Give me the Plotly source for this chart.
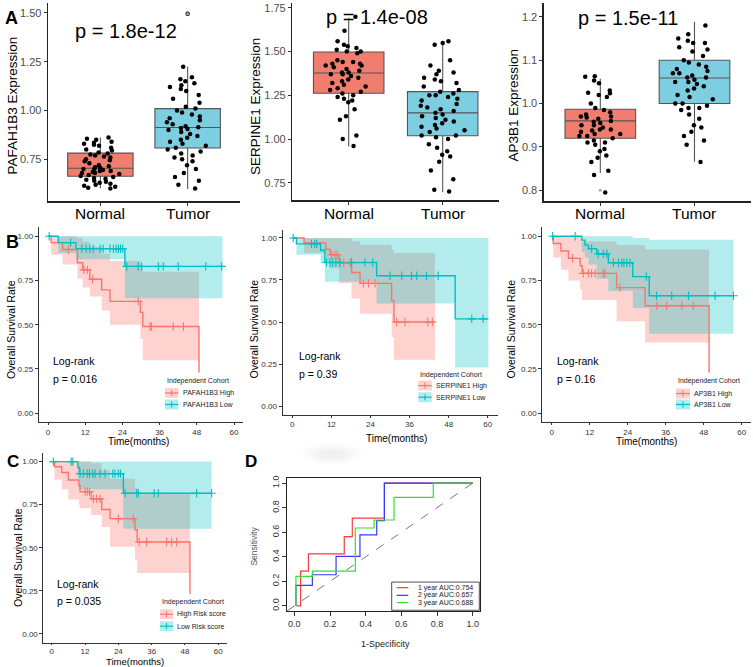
import plotly.graph_objects as go

# ---------------- DATA ----------------
groups = ["Normal", "Tumor"]

# Panel A1: PAFAH1B3
a1_normal = [0.862, 0.855, 0.85, 0.84, 0.835, 0.83, 0.825, 0.82, 0.81, 0.80, 0.795, 0.785,
             0.78, 0.775, 0.77, 0.765, 0.76, 0.75, 0.745, 0.74, 0.73, 0.72, 0.715, 0.71,
             0.705, 0.70, 0.70, 0.695, 0.69, 0.69, 0.685, 0.68, 0.68, 0.675, 0.67, 0.665,
             0.66, 0.655, 0.65, 0.645, 0.64, 0.635, 0.63, 0.625, 0.62, 0.615, 0.61, 0.605, 0.60]
a1_tumor = [1.496, 1.224, 1.17, 1.16, 1.15, 1.14, 1.13, 1.12, 1.11, 1.10, 1.08, 1.06, 1.04,
            1.02, 1.01, 1.00, 0.99, 0.98, 0.97, 0.96, 0.95, 0.94, 0.93, 0.92, 0.915, 0.91,
            0.905, 0.90, 0.89, 0.88, 0.87, 0.86, 0.85, 0.84, 0.83, 0.82, 0.81, 0.80, 0.79,
            0.78, 0.77, 0.76, 0.75, 0.74, 0.72, 0.70, 0.68, 0.66, 0.64, 0.62, 0.60]
a1_q1 = [0.663, 0.808]; a1_med = [0.704, 0.913]; a1_q3 = [0.782, 1.010]
a1_lo = [0.602, 0.598]; a1_hi = [0.862, 1.224]
a1_out_x = [2]; a1_out_y = [1.496]

# Panel A2: SERPINE1
a2_normal = [1.70, 1.62, 1.56, 1.54, 1.53, 1.52, 1.51, 1.50, 1.50, 1.49, 1.45, 1.44, 1.44,
             1.43, 1.43, 1.42, 1.42, 1.41, 1.40, 1.39, 1.38, 1.38, 1.37, 1.37, 1.36, 1.35,
             1.34, 1.33, 1.32, 1.31, 1.30, 1.29, 1.28, 1.27, 1.26, 1.25, 1.24, 1.23, 1.22,
             1.21, 1.17, 1.13, 1.11, 1.02, 1.00, 0.96]
a2_tumor = [1.56, 1.55, 1.54, 1.45, 1.42, 1.39, 1.38, 1.37, 1.35, 1.34, 1.33, 1.32, 1.30,
            1.28, 1.27, 1.26, 1.25, 1.25, 1.24, 1.23, 1.22, 1.20, 1.19, 1.18, 1.17, 1.16,
            1.15, 1.14, 1.13, 1.12, 1.11, 1.10, 1.09, 1.08, 1.07, 1.06, 1.05, 1.04, 1.02,
            1.02, 1.01, 1.00, 0.97, 0.95, 0.93, 0.91, 0.90, 0.87, 0.82, 0.77, 0.71, 0.70]
a2_q1 = [1.262, 1.019]; a2_med = [1.378, 1.150]; a2_q3 = [1.498, 1.271]
a2_lo = [0.958, 0.696]; a2_hi = [1.693, 1.554]
a2_out_x = []; a2_out_y = []

# Panel A3: AP3B1
a3_normal = [1.063, 1.062, 1.053, 1.047, 1.03, 1.025, 1.024, 1.02, 1.015, 1.00, 0.99, 0.985,
             0.98, 0.975, 0.97, 0.97, 0.968, 0.965, 0.96, 0.958, 0.955, 0.95, 0.95, 0.945,
             0.94, 0.94, 0.938, 0.935, 0.93, 0.93, 0.925, 0.925, 0.92, 0.915, 0.91, 0.91,
             0.905, 0.895, 0.89, 0.88, 0.875, 0.865, 0.845, 0.835, 0.795]
a3_tumor = [1.18, 1.16, 1.15, 1.145, 1.14, 1.14, 1.13, 1.125, 1.12, 1.11, 1.10, 1.095, 1.09,
            1.085, 1.08, 1.075, 1.07, 1.07, 1.065, 1.06, 1.06, 1.055, 1.05, 1.05, 1.045,
            1.04, 1.035, 1.03, 1.02, 1.015, 1.01, 1.0, 1.0, 0.995, 0.99, 0.99, 0.985, 0.975,
            0.965, 0.95, 0.945, 0.935, 0.925, 0.915, 0.905, 0.865]
a3_q1 = [0.920, 1.000]; a3_med = [0.960, 1.059]; a3_q3 = [0.987, 1.100]
a3_lo = [0.840, 0.866]; a3_hi = [1.057, 1.189]
a3_out_x = [1]; a3_out_y = [0.80]

a_ylabels = ["PAFAH1B3 Expression", "SERPINE1 Expression", "AP3B1 Expression"]
a_pvalues = ["p = 1.8e-12", "p = 1.4e-08", "p = 1.5e-11"]

# Survival panels (time in months)
b1_hi_t = [0, 1.0, 4.7, 9.5, 11.2, 13.5, 17.3, 20.0, 29.8, 30.6, 48.7]
b1_hi_s = [1.0, 0.964, 0.925, 0.85, 0.81, 0.757, 0.697, 0.632, 0.57, 0.49, 0.23]
b1_hi_end = 48.7
b1_hi_up = [1.0, 1.0, 1.0, 0.99, 0.97, 0.94, 0.90, 0.86, 0.83, 0.80]
b1_hi_lo = [1.0, 0.895, 0.84, 0.76, 0.71, 0.66, 0.58, 0.50, 0.42, 0.30]
b1_hi_cens = [6.6, 11.6, 12.7, 14.4, 29.1, 32.9, 33.4, 40.4, 43.7]
b1_lo_t = [0, 3.3, 9.0, 24.8]
b1_lo_s = [1.0, 0.964, 0.93, 0.83]
b1_lo_end = 56.3
b1_lo_up = [1.0, 1.0, 1.0, 1.0]
b1_lo_lo = [1.0, 0.905, 0.87, 0.65]
b1_lo_cens = [0.4, 7.3, 10.9, 12.3, 13.5, 14.6, 16.8, 17.8, 20.0, 21.1, 22.0, 22.7, 23.4,
              24.1, 25.4, 29.1, 30.2, 35.6, 37.2, 42.0, 50.9, 56.0]

b2_hi_t = [0, 3.6, 10.3, 11.6, 14.4, 18.2, 20.8, 30.5, 31.2]
b2_hi_s = [1.0, 0.97, 0.933, 0.90, 0.852, 0.795, 0.73, 0.627, 0.50]
b2_hi_end = 43.8
b2_hi_up = [1.0, 1.0, 1.0, 1.0, 1.0, 0.98, 0.96, 0.93, 0.91]
b2_hi_lo = [1.0, 0.91, 0.86, 0.82, 0.73, 0.64, 0.55, 0.41, 0.276]
b2_hi_cens = [12.1, 13.1, 13.8, 14.6, 15.8, 17.7, 21.8, 23.4, 25.4, 32.0, 34.6, 41.6, 43.0]
b2_lo_t = [0, 1.3, 8.7, 10.0, 25.9, 50.0]
b2_lo_s = [1.0, 0.965, 0.927, 0.854, 0.775, 0.519]
b2_lo_end = 60.2
b2_lo_up = [1.0, 1.0, 1.0, 1.0, 1.0, 1.0]
b2_lo_lo = [1.0, 0.90, 0.85, 0.74, 0.61, 0.23]
b2_lo_cens = [0.3, 5.9, 6.9, 7.5, 10.5, 11.6, 12.4, 13.4, 14.6, 18.2, 22.3, 24.7, 30.0, 33.6,
              36.6, 38.2, 41.2, 44.8, 55.1, 58.6]

b3_hi_t = [0, 0.5, 2.9, 5.3, 9.0, 9.6, 20.5, 29.5, 49.7]
b3_hi_s = [1.0, 0.959, 0.917, 0.875, 0.833, 0.79, 0.71, 0.607, 0.23]
b3_hi_end = 49.7
b3_hi_up = [1.0, 1.0, 1.0, 1.0, 0.99, 0.97, 0.95, 0.925]
b3_hi_lo = [1.0, 0.88, 0.81, 0.75, 0.70, 0.64, 0.52, 0.40]
b3_hi_cens = [6.6, 10.0, 11.6, 12.6, 13.7, 16.3, 16.8, 21.5, 33.2, 36.3, 41.1, 44.7]
b3_lo_t = [0, 9.5, 10.5, 11.6, 14.2, 17.9, 25.6, 30.8]
b3_lo_s = [1.0, 0.978, 0.95, 0.93, 0.90, 0.85, 0.772, 0.664]
b3_lo_end = 57.4
b3_lo_up = [1.0, 1.0, 1.0, 1.0, 1.0, 1.0, 0.99, 0.98]
b3_lo_lo = [1.0, 0.91, 0.88, 0.84, 0.76, 0.69, 0.594, 0.449]
b3_lo_cens = [0.3, 7.4, 12.6, 14.7, 16.3, 17.4, 19.5, 21.1, 22.1, 22.8, 23.7, 24.7, 29.9,
              33.1, 37.9, 43.2, 51.6, 57.4]

c_hi_t = [0, 1.0, 3.6, 6.0, 9.8, 10.2, 14.2, 18.0, 21.0, 30.0, 30.8, 49.8]
c_hi_s = [1.0, 0.97, 0.937, 0.893, 0.86, 0.826, 0.784, 0.722, 0.669, 0.605, 0.534, 0.232]
c_hi_end = 49.8
c_hi_up = [1.0, 1.0, 1.0, 1.0, 1.0, 1.0, 0.99, 0.95, 0.90, 0.85, 0.81]
c_hi_lo = [1.0, 0.895, 0.84, 0.78, 0.75, 0.73, 0.69, 0.62, 0.506, 0.43, 0.354]
c_hi_cens = [12.0, 12.8, 13.6, 15.0, 16.2, 17.4, 24.0, 29.4, 31.5, 34.2, 41.4, 43.2, 45.0]
c_lo_t = [0, 9.4, 10.0, 25.8]
c_lo_s = [1.0, 0.965, 0.93, 0.816]
c_lo_end = 57.6
c_lo_up = [1.0, 1.0, 1.0, 1.0]
c_lo_lo = [1.0, 0.90, 0.84, 0.61]
c_lo_cens = [0.6, 7.0, 7.6, 10.2, 11.4, 12.8, 13.6, 14.8, 15.6, 17.4, 19.2, 22.0, 22.8, 24.0,
             24.8, 26.4, 30.6, 31.2, 36.9, 38.4, 52.2, 57.6]

km_pvalues = ["p = 0.016", "p = 0.39", "p = 0.16", "p = 0.035"]
km_labels = [["PAFAH1B3 High", "PAFAH1B3 Low"], ["SERPINE1 High", "SERPINE1 Low"],
             ["AP3B1 High", "AP3B1 Low"], ["High Risk score", "Low Risk score"]]
time_ticks = [0, 12, 24, 36, 48, 60]
surv_ticks = [0, 0.25, 0.5, 0.75, 1.0]

# ROC panel
roc1_fpr = [0.013, 0.035, 0.035, 0.079, 0.079, 0.28, 0.28, 0.325, 0.325, 0.505, 0.505, 1.0]
roc1_tpr = [0.0, 0.0, 0.284, 0.284, 0.424, 0.424, 0.565, 0.565, 0.716, 0.716, 1.0, 1.0]
roc2_fpr = [0.009, 0.009, 0.101, 0.101, 0.234, 0.234, 0.368, 0.368, 0.462, 0.462, 0.505, 0.505, 1.0]
roc2_tpr = [0.0, 0.168, 0.168, 0.254, 0.254, 0.403, 0.403, 0.578, 0.578, 0.695, 0.695, 1.0, 1.0]
roc3_fpr = [0.009, 0.009, 0.101, 0.101, 0.342, 0.342, 0.447, 0.447, 0.559, 0.559, 0.779, 0.779, 1.0]
roc3_tpr = [0.0, 0.24, 0.24, 0.284, 0.284, 0.635, 0.635, 0.70, 0.70, 0.884, 0.884, 1.0, 1.0]
roc_labels = ["1 year AUC:0.754", "2 year AUC:0.657", "3 year AUC:0.688"]
roc_ticks = [0, 0.2, 0.4, 0.6, 0.8, 1.0]

# ---------------- STYLE / LAYOUT ----------------
W, H = 753, 667
FONT = "Liberation Sans, Arial, sans-serif"
RED = "#F8766D"; TEAL = "#00BFC4"
RED_BAND = "rgba(248,118,109,0.33)"; TEAL_BAND = "rgba(0,191,196,0.30)"
BOX_COLORS = ["#F07D6D", "#7ECEE2"]
ROC_COLORS = ["#FF3B3B", "#3838FF", "#33E033"]


def X(p):
    return p / W


def Y(p):
    return 1 - p / H


def xdom(a, b):
    return [a / W, b / W]


def ydom(top, bot):
    return [1 - bot / H, 1 - top / H]


def sfx(n):
    return "" if n == 1 else str(n)


fig = go.Figure()
layout = dict(width=W, height=H, margin=dict(l=0, r=0, t=0, b=0), autosize=False,
              paper_bgcolor="white", plot_bgcolor="white", showlegend=False,
              font=dict(family=FONT, color="#000"), boxmode="overlay")
annotations = []
shapes = []


def ann(text, x, y, size, xanchor="center", yanchor="middle", angle=0, bold=False, color="#000",
        xref="paper"):
    annotations.append(dict(text=("<b>%s</b>" % text) if bold else text,
                            x=X(x) if xref == "paper" else x, y=Y(y),
                            xref=xref, yref="paper", showarrow=False, xanchor=xanchor,
                            yanchor=yanchor, textangle=angle,
                            font=dict(size=size, color=color, family=FONT)))


# ---------- Panel A ----------
a_sets = [
    (1, a1_normal, a1_tumor, a1_q1, a1_med, a1_q3, a1_lo, a1_hi, a1_out_x, a1_out_y,
     (48, 240), (0, 199), [0.536, 1.551], [0.75, 1.0, 1.25, 1.5], ".2f"),
    (2, a2_normal, a2_tumor, a2_q1, a2_med, a2_q3, a2_lo, a2_hi, a2_out_x, a2_out_y,
     (292.3, 499.1), (0, 198), [0.651, 1.778], [0.75, 1.0, 1.25, 1.5, 1.75], ".2f"),
    (3, a3_normal, a3_tumor, a3_q1, a3_med, a3_q3, a3_lo, a3_hi, a3_out_x, a3_out_y,
     (543.8, 751), (0, 199), [0.775, 1.232], [0.8, 0.9, 1.0, 1.1, 1.2], ".1f"),
]
for (n, nv, tv, q1, med, q3, lo, hi, ox, oy, xd, yd, yr, ytv, yfmt) in a_sets:
    xr, yr_ = "x" + sfx(n), "y" + sfx(n)
    for i, vals in enumerate([nv, tv]):
        pos = i + 1
        fig.add_trace(go.Box(x=[pos], q1=[q1[i]], median=[med[i]], q3=[q3[i]],
                             lowerfence=[lo[i]], upperfence=[hi[i]], width=0.75, whiskerwidth=0,
                             fillcolor=BOX_COLORS[i], line=dict(color="#555555", width=1.1),
                             boxpoints=False, xaxis=xr, yaxis=yr_, hoverinfo="skip"))
    if ox:
        fig.add_trace(go.Scatter(x=ox, y=oy, mode="markers", marker=dict(color="#aaa", size=3),
                                 xaxis=xr, yaxis=yr_, hoverinfo="skip"))
    for i, vals in enumerate([nv, tv]):
        pos = i + 1
        fig.add_trace(go.Box(x=[pos] * len(vals), y=vals, boxpoints="all", jitter=0.7, pointpos=0,
                             width=0.75, whiskerwidth=0, fillcolor="rgba(0,0,0,0)",
                             line=dict(color="rgba(0,0,0,0)", width=0),
                             marker=dict(color="black", size=4.5),
                             xaxis=xr, yaxis=yr_, hoverinfo="skip"))
    layout["xaxis" + sfx(n)] = dict(domain=xdom(*xd), range=[0.4, 2.6], anchor=yr_,
                                    tickvals=[1, 2], showticklabels=False, ticks="outside",
                                    ticklen=3, tickcolor="#333", showline=True, linecolor="#222",
                                    linewidth=1.4, showgrid=False, zeroline=False)
    layout["yaxis" + sfx(n)] = dict(domain=ydom(*yd), range=yr, anchor=xr, tickvals=ytv,
                                    tickformat=yfmt, ticks="outside", ticklen=3, tickcolor="#333",
                                    showline=True, linecolor="#222", linewidth=1.4, showgrid=False,
                                    zeroline=False, tickfont=dict(size=11, color="#4D4D4D", family=FONT))
    for i, g in enumerate(groups):
        ann(g, i + 1, 211, 15.5, xref=xr)

ann("A", 11, 15, 18, bold=True)
ann(a_ylabels[0], 13, 103, 13.5, angle=-90)
ann(a_ylabels[1], 255, 103.5, 13.5, angle=-90)
ann(a_ylabels[2], 514, 103, 13.5, angle=-90)
ann(a_pvalues[0], 126, 28, 20)
ann(a_pvalues[1], 377, 14, 20)
ann(a_pvalues[2], 628, 15, 20)


# ---------- KM panels ----------
def step_at(times, surv, t):
    v = surv[0]
    for ti, si in zip(times, surv):
        if ti <= t:
            v = si
    return v


km_sets = [
    (4, [(b1_hi_t, b1_hi_s, b1_hi_end, b1_hi_up, b1_hi_lo, b1_hi_cens),
         (b1_lo_t, b1_lo_s, b1_lo_end, b1_lo_up, b1_lo_lo, b1_lo_cens)],
     (38.7, 243.3), (225.4, 421.0), 2),
    (5, [(b2_hi_t, b2_hi_s, b2_hi_end, b2_hi_up, b2_hi_lo, b2_hi_cens),
         (b2_lo_t, b2_lo_s, b2_lo_end, b2_lo_up, b2_lo_lo, b2_lo_cens)],
     (282.5, 497.5), (227.55, 413.45), 2),
    (6, [(b3_hi_t, b3_hi_s, b3_hi_end, b3_hi_up, b3_hi_lo, b3_hi_cens),
         (b3_lo_t, b3_lo_s, b3_lo_end, b3_lo_up, b3_lo_lo, b3_lo_cens)],
     (542.2, 751.2), (225.4, 421.0), 2),
    (7, [(c_hi_t, c_hi_s, c_hi_end, c_hi_up, c_hi_lo, c_hi_cens),
         (c_lo_t, c_lo_s, c_lo_end, c_lo_up, c_lo_lo, c_lo_cens)],
     (43.4, 226.6), (452, 642.5), 1),
]
line_cols = [RED, TEAL]
band_cols = [RED_BAND, TEAL_BAND]
for (n, curves, xd, yd, tl) in km_sets:
    xr, yr_ = "x" + sfx(n), "y" + sfx(n)
    for k, (t, s, end, up, lo, cens) in enumerate(curves):
        bx = list(t[:len(up)]) + [end]
        fig.add_trace(go.Scatter(x=bx, y=list(lo) + [lo[-1]], mode="lines",
                                 line=dict(width=0, shape="hv"), xaxis=xr, yaxis=yr_,
                                 hoverinfo="skip"))
        fig.add_trace(go.Scatter(x=bx, y=list(up) + [up[-1]], mode="lines",
                                 line=dict(width=0, shape="hv"), fill="tonexty",
                                 fillcolor=band_cols[k], xaxis=xr, yaxis=yr_, hoverinfo="skip"))
    for k, (t, s, end, up, lo, cens) in enumerate(curves):
        fig.add_trace(go.Scatter(x=list(t) + [end], y=list(s) + [s[-1]], mode="lines",
                                 line=dict(color=line_cols[k], width=1.4, shape="hv"),
                                 xaxis=xr, yaxis=yr_, hoverinfo="skip"))
    for k, (t, s, end, up, lo, cens) in enumerate(curves):
        fig.add_trace(go.Scatter(x=cens, y=[step_at(t, s, c) for c in cens], mode="markers",
                                 marker=dict(symbol="cross-thin", size=6,
                                             line=dict(color=line_cols[k], width=1.1)),
                                 xaxis=xr, yaxis=yr_, hoverinfo="skip"))
    layout["xaxis" + sfx(n)] = dict(domain=xdom(*xd), range=[-3, 63], anchor=yr_,
                                    tickvals=time_ticks, ticks="outside", ticklen=tl,
                                    tickcolor="#333", showline=True, linecolor="#333", linewidth=1,
                                    showgrid=False, zeroline=False,
                                    tickfont=dict(size=8, color="#333", family=FONT))
    layout["yaxis" + sfx(n)] = dict(domain=ydom(*yd), range=[-0.05, 1.05], anchor=xr,
                                    tickvals=surv_ticks, tickformat=".2f", ticks="outside",
                                    ticklen=3, tickcolor="#333", showline=True, linecolor="#333",
                                    linewidth=1, showgrid=False, zeroline=False,
                                    tickfont=dict(size=8, color="#333", family=FONT))

ann("B", 12, 240, 18, bold=True)
ann("C", 12.5, 461, 17, bold=True)
for (tx, ty) in [(10.5, 328), (254, 327), (511, 327), (18.5, 557)]:
    ann("Overall Survival Rate", tx, ty, 10.5, angle=-90)
for (tx, ty, fs) in [(138, 440, 10), (396, 437, 10), (646, 440, 10), (135, 661.5, 9.5)]:
    ann("Time(months)", tx, ty, fs)
logrank_pos = [(50.7, 360, 377.7), (296.7, 355, 372.3), (555, 360, 377.7), (55, 584, 600.7)]
for (lx, ly1, ly2), pv in zip(logrank_pos, km_pvalues):
    ann("Log-rank", lx, ly1, 10.5, xanchor="left")
    ann(pv, lx, ly2, 10.5, xanchor="left")

leg_pos = [((165, 379.3), (165, 178.3), (391.7, 403.3), 180.5),
           ((418.3, 373.3), (418.3, 431.7), (384.3, 396.0), 433.5),
           ((676, 380), (676, 690), (392.3, 403.3), 692),
           ((160, 602), (160, 173), (614, 626), 175)]
for ((tx, ty), (kx0, kx1), rows, textx), labels in zip(leg_pos, km_labels):
    ann("Independent Cohort", tx, ty, 7, xanchor="left", color="#222")
    for k, ry in enumerate(rows):
        shapes.append(dict(type="rect", xref="paper", yref="paper", x0=X(kx0), x1=X(kx1),
                           y0=Y(ry + 5), y1=Y(ry - 5), fillcolor=band_cols[k],
                           line=dict(width=0), layer="above"))
        shapes.append(dict(type="line", xref="paper", yref="paper", x0=X(kx0), x1=X(kx1),
                           y0=Y(ry), y1=Y(ry), line=dict(color=line_cols[k], width=1.2),
                           layer="above"))
        cx = (kx0 + kx1) / 2
        shapes.append(dict(type="line", xref="paper", yref="paper", x0=X(cx), x1=X(cx),
                           y0=Y(ry - 3), y1=Y(ry + 3), line=dict(color=line_cols[k], width=1.1),
                           layer="above"))
        ann(labels[k], textx, ry, 7, xanchor="left", color="#222")

# ---------- Panel D: ROC ----------
for fpr, tpr, col in [(roc1_fpr, roc1_tpr, ROC_COLORS[0]), (roc2_fpr, roc2_tpr, ROC_COLORS[1]),
                      (roc3_fpr, roc3_tpr, ROC_COLORS[2])]:
    fig.add_trace(go.Scatter(x=fpr, y=tpr, mode="lines", line=dict(color=col, width=1.2),
                             xaxis="x8", yaxis="y8", hoverinfo="skip"))
shapes.append(dict(type="line", xref="x8 domain", yref="y8 domain", x0=0, y0=0, x1=1, y1=1,
                   line=dict(color="#666", width=0.9, dash="dash")))
layout["xaxis8"] = dict(domain=xdom(287.2, 479.8), range=[-0.04, 1.04], anchor="y8",
                        tickvals=roc_ticks, tickformat=".1f", ticks="outside", ticklen=4,
                        tickcolor="#333", showline=True, mirror=True, linecolor="#222",
                        linewidth=1, showgrid=False, zeroline=False,
                        tickfont=dict(size=9, color="#333", family=FONT))
layout["yaxis8"] = dict(domain=ydom(477.4, 610.6), range=[-0.04, 1.04], anchor="x8",
                        tickvals=roc_ticks, tickformat=".1f", ticks="outside", ticklen=4,
                        tickcolor="#333", showline=True, mirror=True, linecolor="#222",
                        linewidth=1, showgrid=False, zeroline=False, tickangle=-90,
                        tickfont=dict(size=9, color="#333", family=FONT))
ann("D", 250.5, 461, 17, bold=True)
ann("1-Specificity", 385, 644, 9, color="#222")
ann("Sensitivity", 254, 545, 8.5, angle=-90, color="#555")
shapes.append(dict(type="rect", xref="paper", yref="paper", x0=X(391.7), x1=X(479.3),
                   y0=Y(610), y1=Y(581.7), line=dict(color="#222", width=0.8),
                   fillcolor="white", layer="above"))
for k, ry in enumerate([587.3, 595.0, 602.3]):
    shapes.append(dict(type="line", xref="paper", yref="paper", x0=X(396.7), x1=X(408.3),
                       y0=Y(ry), y1=Y(ry), line=dict(color=ROC_COLORS[k], width=1.2),
                       layer="above"))
    ann(roc_labels[k], 415.7, ry, 7, xanchor="left", color="#222")

# faint blurred smudge above panel D
for (rx, ry, a) in [(30, 11, 0.015), (22, 8, 0.02), (14, 5, 0.025)]:
    shapes.append(dict(type="circle", xref="paper", yref="paper", x0=X(332 - rx), x1=X(332 + rx),
                       y0=Y(453 + ry), y1=Y(453 - ry), fillcolor="rgba(0,0,0,%s)" % a,
                       line=dict(width=0), layer="below"))

layout["annotations"] = annotations
layout["shapes"] = shapes
fig.update_layout(**layout)
fig.write_html("out.html", config={"displayModeBar": False, "staticPlot": True},
               post_script="document.body.style.margin='0';")
